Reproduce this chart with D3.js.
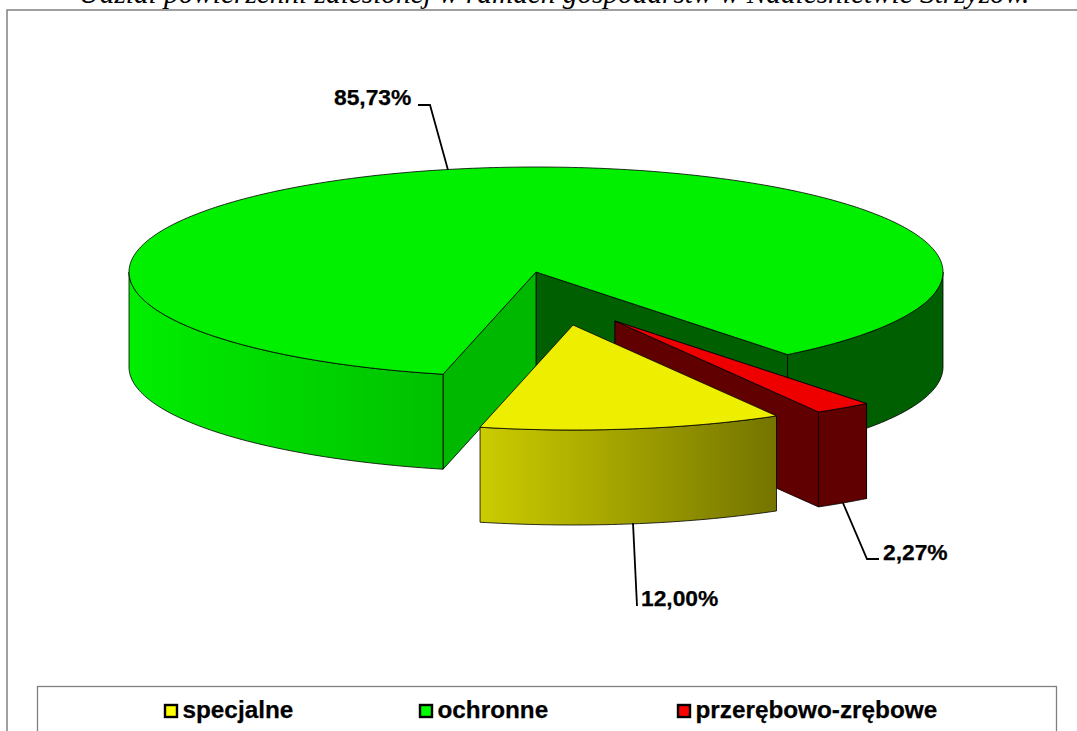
<!DOCTYPE html>
<html lang="pl">
<head>
<meta charset="utf-8">
<title>Udział powierzchni zalesionej</title>
<script src="https://cdn.jsdelivr.net/npm/d3@7"></script>
<style>
html, body { margin: 0; padding: 0; background: #fff; overflow: hidden; }
svg { display: block; }
text { font-family: "Liberation Sans", Arial, sans-serif; font-weight: bold; fill: #000; stroke: #000; stroke-width: 0.25px; }
</style>
</head>
<body>
<script>
// data
var categories = ["specjalne", "ochronne", "przerębowo-zrębowe"];
var values = [12.00, 85.73, 2.27];
var valueLabels = ["12,00%", "85,73%", "2,27%"];
var topColors = ["#eeee00", "#00f000", "#ee0000"];
var legendColors = ["#ffff00", "#00ff00", "#ff0000"];
var titleText = "Udział powierzchni zalesionej w ramach gospodarstw w Nadleśnictwie Strzyżów.";

var width = 1077, height = 731;

// pie geometry (tilted disc)
var cx = 536, cy = 272, rx = 407, ry = 105, depth = 95;
var firstAngle = 150;
var explode = [[37, 53], [0, 0], [79, 49]];   // pull out of each slice, px

var svg = d3.select("body").append("svg")
	.attr("width", width)
	.attr("height", height);

var defs = svg.append("defs");
function wallGradient(id, c0, c1) {
	var g = defs.append("linearGradient").attr("id", id);
	g.append("stop").attr("offset", 0).attr("stop-color", c0);
	g.append("stop").attr("offset", 1).attr("stop-color", c1);
}
wallGradient("wallGreen", "#00ee00", "#00c000");
wallGradient("wallYellow", "#cccc00", "#747400");

// frame + title
svg.append("rect").attr("x", 7).attr("y", 10).attr("width", width + 20).attr("height", height + 20)
	.attr("fill", "#fff").attr("stroke", "#808080").attr("stroke-width", 1.5);
svg.append("text")
	.attr("x", 554).attr("y", 3)
	.attr("text-anchor", "middle")
	.style("font-family", "'Liberation Serif', serif")
	.style("font-style", "italic")
	.style("font-weight", "normal")
	.style("font-size", "29.3px")
	.style("stroke", "none")
	.text(titleText);

var deg = Math.PI / 180;
var pie = d3.pie().sort(null).startAngle(firstAngle * deg).endAngle((firstAngle + 360) * deg);
var slices = pie(values);

// x and y scales map the flat unit disc on to the tilted ellipse
var xs = d3.scaleLinear().domain([-1, 1]).range([cx - rx, cx + rx]);
var ys = d3.scaleLinear().domain([-1, 1]).range([cy - ry, cy + ry]);

function pt(a, i, drop) {
	return [xs(Math.sin(a)) + explode[i][0], ys(-Math.cos(a)) + explode[i][1] + (drop || 0)];
}
function apex(i, drop) {
	return [cx + explode[i][0], cy + explode[i][1] + (drop || 0)];
}
function arcPts(a0, a1, i, drop) {
	var n = Math.max(2, Math.ceil((a1 - a0) / deg));
	return d3.range(n + 1).map(function (k) { return pt(a0 + (a1 - a0) * k / n, i, drop); });
}
var line = d3.line();

function poly(pts, fill) {
	svg.append("path")
		.attr("d", line(pts) + "Z")
		.attr("fill", fill)
		.attr("stroke", "#000")
		.attr("stroke-width", 0.8)
		.attr("stroke-linejoin", "round");
}
function outerWall(a0, a1, i, fill) {
	poly(arcPts(a0, a1, i).concat(arcPts(a0, a1, i, depth).reverse()), fill);
}
function cutFace(a, i, fill) {
	poly([apex(i), pt(a, i), pt(a, i, depth), apex(i, depth)], fill);
}

// green: far cut face, right wall, near cut face, left wall, top
var green = slices[1];
var g0 = green.startAngle, g1 = green.endAngle;
cutFace(g1, 1, "#005f00");
outerWall(450 * deg, g1, 1, "#005f00");
cutFace(g0, 1, "#00b800");
outerWall(g0, 270 * deg, 1, "url(#wallGreen)");
poly(arcPts(g0, g1, 1).concat([apex(1)]), topColors[1]);

// red sliver
var red = slices[2];
cutFace(red.startAngle - 2 * Math.PI, 2, "#600000");
cutFace(red.endAngle - 2 * Math.PI, 2, "#600000");
outerWall(red.startAngle - 2 * Math.PI, red.endAngle - 2 * Math.PI, 2, "#600000");
poly(arcPts(red.startAngle, red.endAngle, 2).concat([apex(2)]), topColors[2]);

// yellow slice
var yellow = slices[0];
outerWall(yellow.startAngle, yellow.endAngle, 0, "url(#wallYellow)");
poly(arcPts(yellow.startAngle, yellow.endAngle, 0).concat([apex(0)]), topColors[0]);

// leader lines and value labels
var leaders = [
	[[633, 523], [637, 606]],
	[[448, 170], [430, 105], [418, 105]],
	[[843, 503], [867, 559], [879, 559]]
];
var labelPos = [[641, 606], [334, 105], [883, 560]];
leaders.forEach(function (l) {
	svg.append("path").attr("d", line(l)).attr("fill", "none").attr("stroke", "#000").attr("stroke-width", 1.8);
});
svg.selectAll("text.val").data(valueLabels).enter().append("text")
	.attr("class", "val")
	.attr("x", function (d, i) { return labelPos[i][0]; })
	.attr("y", function (d, i) { return labelPos[i][1]; })
	.style("font-size", "22.8px")
	.text(function (d) { return d; });

// legend
svg.append("rect").attr("x", 37.5).attr("y", 686.5).attr("width", 1019).attr("height", 80)
	.attr("fill", "#fff").attr("stroke", "#808080").attr("stroke-width", 1.3);
var legendX = [164, 419, 677];
var lg = svg.selectAll("g.lg").data(categories).enter().append("g")
	.attr("class", "lg")
	.attr("transform", function (d, i) { return "translate(" + legendX[i] + ",704)"; });
lg.append("rect").attr("x", 1).attr("y", 1).attr("width", 12).attr("height", 12)
	.attr("fill", function (d, i) { return legendColors[i]; })
	.attr("stroke", "#000").attr("stroke-width", 2.4);
lg.append("text").attr("x", 18.5).attr("y", 14).style("font-size", "24.3px").text(function (d) { return d; });
</script>
</body>
</html>
